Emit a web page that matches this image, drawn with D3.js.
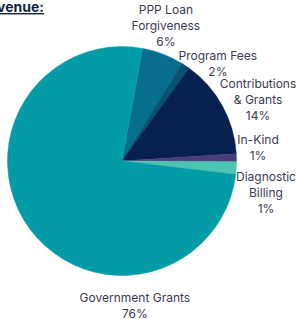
<!DOCTYPE html>
<html>
<head>
<meta charset="utf-8">
<script src="https://cdn.jsdelivr.net/npm/d3@7"></script>
<style>
  body { margin: 0; background: #fff; }
  text { font-family: Inter, "Open Sans", sans-serif; }
</style>
</head>
<body>
<div id="chart"></div>
<script>
// slices, in drawing order (clockwise from the first edge)
let categories = ["PPP Loan Forgiveness", "Program Fees", "Contributions & Grants", "In-Kind", "Diagnostic Billing", "Government Grants"];
let values = [5.9, 1.2, 14.0, 1.1, 1.8, 76.0];
let labelLines = [["PPP Loan", "Forgiveness", "6%"], ["Program Fees", "2%"], ["Contributions", "& Grants", "14%"], ["In-Kind", "1%"], ["Diagnostic", "Billing", "1%"], ["Government Grants", "76%"]];
let colors = ["#076e8d", "#0b4f72", "#07204f", "#4b3d77", "#4cc3b3", "#029ba6"];

// where each label block sits: angle (deg, clockwise from top) and distance from centre
let labelAngle = [18, 44.4, 65.5, 84.3, 102.4, 174.9];
let labelDist = [142, 137, 149.5, 136.7, 147.4, 145.1];

let width = 296, height = 319;
let cx = 122, cy = 161, radius = 114.5;
let lineH = 16;

let svg = d3.select("#chart").append("svg")
    .attr("width", width).attr("height", height);

// title is cut off at the left edge in the original
svg.append("text")
    .attr("x", 44).attr("y", 12)
    .attr("text-anchor", "end")
    .attr("font-size", 14).attr("font-weight", 700)
    .attr("fill", "#0d1f45")
    .attr("text-decoration", "underline")
    .text("Revenue:");

let data = categories.map(function(c, i) {
    return { name: c, value: values[i], color: colors[i], lines: labelLines[i], la: labelAngle[i], ld: labelDist[i] };
});

let start = 10.4 * Math.PI / 180;
let pie = d3.pie().sort(null).value(function(d) { return d.value; })
    .startAngle(start).endAngle(start + 2 * Math.PI);
let arc = d3.arc().innerRadius(0).outerRadius(radius);

let g = svg.append("g").attr("transform", "translate(" + cx + "," + cy + ")");

g.selectAll(".slice").data(pie(data)).enter().append("path")
    .classed("slice", true)
    .attr("d", arc)
    .attr("fill", function(d) { return d.data.color; })
    .attr("stroke", function(d) { return d.data.color; })
    .attr("stroke-width", 0.5);

let labels = g.selectAll(".lbl").data(data).enter().append("text")
    .classed("lbl", true)
    .attr("text-anchor", "middle")
    .attr("font-size", 12)
    .attr("fill", "#3b3b4f")
    .attr("transform", function(d) {
        let p = d3.pointRadial(d.la * Math.PI / 180, d.ld);
        return "translate(" + p[0] + "," + p[1] + ")";
    });

labels.each(function(d) {
    let t = d3.select(this);
    let n = d.lines.length;
    d.lines.forEach(function(line, i) {
        t.append("tspan")
            .attr("x", 0)
            .attr("y", (i - (n - 1) / 2) * lineH)
            .attr("dominant-baseline", "central")
            .text(line);
    });
});
</script>
</body>
</html>
